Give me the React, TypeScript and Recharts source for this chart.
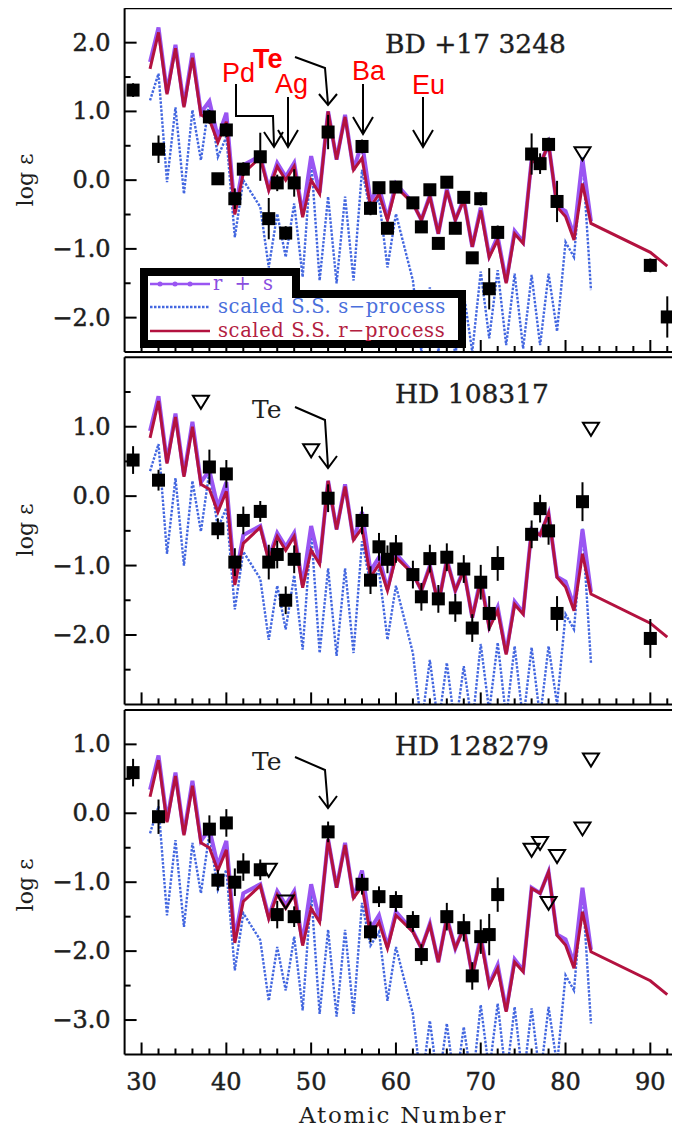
import React from "react";
import { ComposedChart, ErrorBar, Line, Scatter, XAxis, YAxis } from "recharts";

// scaled solar-system abundance patterns
const MODEL_Z = [
  31, 32, 33, 34, 35, 36, 37, 38, 39, 40, 41, 42, 44, 45, 46, 47, 48, 49, 50, 51, 52, 53, 54, 55, 56, 57, 58,
  59, 60, 62, 63, 64, 65, 66, 67, 68, 69, 70, 71, 72, 73, 74, 75, 76, 77, 78, 79, 80, 81, 82, 83,
];
const R_PROCESS = [
  1.62, 2.15, 1.25, 1.92, 1.06, 1.78, 0.95, 0.88, 0.55, 0.85, -0.5, 0.1, 0.33, -0.15, 0.2, 0.0, 0.2, -0.54,
  0.0, -0.2, 1.0, 0.3, 0.92, 0.15, 0.32, -0.39, -0.2, -0.58, -0.1, -0.34, -0.58, -0.24, -0.78, -0.15, -0.58,
  -0.29, -0.97, -0.44, -1.12, -0.87, -1.5, -0.78, -0.92, 0.29, 0.22, 0.53, -0.39, -0.53, -0.87, -0.05, -0.63,
];
const R_TAIL_Z = [90, 92];
const R_TAIL = [-1.05, -1.25];
const S_PROCESS = [
  1.16, 1.55, -0.03, 1.06, -0.2, 1.02, 0.29, 1.16, 0.34, 0.63, -0.83, 0.0, -0.39, -1.27, -0.49, -1.12, -0.34,
  -1.41, 0.3, -1.46, -0.24, -1.5, -0.24, -1.46, 0.15, -0.47, -0.27, -1.27, -0.49, -1.46, -2.5, -1.56, -2.5,
  -1.6, -2.55, -1.65, -2.5, -1.33, -2.3, -1.31, -2.4, -1.36, -2.45, -1.38, -2.4, -1.36, -2.2, -0.9, -1.12,
  0.34, -1.6,
];
const R_PLUS_S = [
  1.72, 2.22, 1.27, 1.97, 1.08, 1.85, 0.98, 1.15, 0.62, 0.98, -0.45, 0.22, 0.35, -0.12, 0.25, 0.05, 0.25, -0.5,
  0.35, -0.18, 1.0, 0.3, 0.95, 0.15, 0.55, -0.3, -0.1, -0.56, -0.05, -0.33, -0.58, -0.22, -0.78, -0.13, -0.58,
  -0.27, -0.97, -0.4, -1.1, -0.82, -1.48, -0.74, -0.9, 0.3, 0.22, 0.53, -0.38, -0.45, -0.8, 0.3, -0.6,
];

// per-star scaling of the patterns
const STARS = ["BD +17 3248", "HD 108317", "HD 128279"];
const R_SHIFT = [0, -0.78, -1.38];
const S_SHIFT = [0, -0.8, -1.45];
const RS_SHIFT = [0, -0.78, -1.38];

// BD +17 3248
const BD_Z = [29, 32, 38, 39, 40, 41, 42, 44, 45, 46, 47, 48, 52, 56, 57, 58, 59, 60, 62, 63, 64, 65, 66, 67, 68, 69, 70, 71, 72, 76, 77, 78, 79, 90, 92];
const BD_LOGE = [1.31, 0.45, 0.92, 0.02, 0.73, -0.27, 0.16, 0.34, -0.56, -0.04, -0.77, -0.04, 0.7, 0.49, -0.41, -0.11, -0.7, -0.1, -0.33, -0.68, -0.14, -0.92, -0.03, -0.7, -0.25, -1.13, -0.27, -1.58, -0.76, 0.38, 0.24, 0.52, -0.31, -1.24, -1.99];
const BD_ERR = [0.1, 0.2, 0.1, 0.08, 0.1, 0.15, 0.1, 0.35, 0.3, 0.12, 0.1, 0.2, 0.25, 0.1, 0.1, 0.08, 0.08, 0.08, 0.08, 0.08, 0.08, 0.08, 0.08, 0.08, 0.08, 0.08, 0.1, 0.3, 0.1, 0.3, 0.15, 0.1, 0.3, 0.1, 0.3];
const BD_LIM_Z = [82];
const BD_LIM = [0.39];

// HD 108317
const HD1_Z = [29, 32, 38, 39, 40, 41, 42, 44, 45, 46, 47, 48, 52, 56, 57, 58, 59, 60, 62, 63, 64, 65, 66, 67, 68, 69, 70, 71, 72, 76, 77, 78, 79, 82, 90];
const HD1_LOGE = [0.52, 0.23, 0.42, -0.47, 0.32, -0.95, -0.35, -0.22, -0.95, -0.84, -1.5, -0.91, -0.03, -0.35, -1.21, -0.73, -0.91, -0.76, -1.13, -1.45, -0.9, -1.48, -0.88, -1.61, -1.05, -1.9, -1.24, -1.69, -0.97, -0.55, -0.18, -0.5, -1.69, -0.08, -2.05];
const HD1_ERR = [0.2, 0.15, 0.25, 0.15, 0.2, 0.2, 0.2, 0.15, 0.25, 0.2, 0.2, 0.2, 0.2, 0.2, 0.2, 0.2, 0.2, 0.2, 0.2, 0.2, 0.2, 0.2, 0.2, 0.2, 0.2, 0.2, 0.25, 0.25, 0.25, 0.2, 0.2, 0.2, 0.25, 0.28, 0.28];
const HD1_LIM_Z = [37, 50, 83];
const HD1_LIM = [1.36, 0.66, 0.97];

// HD 128279
const HD2_Z = [29, 32, 38, 39, 40, 41, 42, 44, 46, 48, 52, 56, 57, 58, 60, 62, 63, 66, 68, 69, 70, 71, 72];
const HD2_LOGE = [0.59, -0.05, -0.23, -0.97, -0.14, -1.0, -0.78, -0.82, -1.47, -1.5, -0.27, -1.03, -1.72, -1.21, -1.28, -1.57, -2.05, -1.5, -1.66, -2.36, -1.79, -1.76, -1.18];
const HD2_ERR = [0.2, 0.25, 0.2, 0.15, 0.2, 0.2, 0.2, 0.15, 0.2, 0.15, 0.15, 0.15, 0.15, 0.15, 0.15, 0.15, 0.15, 0.2, 0.2, 0.2, 0.25, 0.3, 0.25];
const HD2_LIM_Z = [45, 47, 76, 77, 78, 79, 82, 83];
const HD2_LIM = [-0.82, -1.28, -0.53, -0.43, -1.3, -0.62, -0.22, 0.78];

const X_TICKS = [30, 32, 34, 36, 38, 40, 42, 44, 46, 48, 50, 52, 54, 56, 58, 60, 62, 64, 66, 68, 70, 72, 74, 76, 78, 80, 82, 84, 86, 88, 90, 92];
const Y_TICKS = [
  [-2, -1.5, -1, -0.5, 0, 0.5, 1, 1.5, 2],
  [-2.5, -2, -1.5, -1, -0.5, 0, 0.5, 1, 1.5],
  [-3, -2.5, -2, -1.5, -1, -0.5, 0, 0.5, 1],
];

const LAYOUT = [
  { top: 8.3, bottom: 352, domain: [-2.5, 2.5] },
  { top: 357.3, bottom: 704.4, domain: [-3, 2] },
  { top: 709.9, bottom: 1054.5, domain: [-3.5, 1.5] },
];

const RED = "#b3123f";
const PURPLE = "#9a55f2";
const BLUE = "#4367e0";
const INK = "#1e1e1e";
const SERIF = "'DejaVu Serif', serif";
const SANS = "'Liberation Sans', Arial, sans-serif";
const BOTTOM_AXIS_H = 40;
const TOP_AXIS_H = 2;

const pts = (zs: number[], vs: number[], shift = 0) => zs.map((z, i) => ({ z, v: vs[i] + shift }));
const obs = (zs: number[], vs: number[], es: number[]) => zs.map((z, i) => ({ z, v: vs[i], err: es[i] }));

const OBSERVED = [
  { pts: obs(BD_Z, BD_LOGE, BD_ERR), lim: pts(BD_LIM_Z, BD_LIM) },
  { pts: obs(HD1_Z, HD1_LOGE, HD1_ERR), lim: pts(HD1_LIM_Z, HD1_LIM) },
  { pts: obs(HD2_Z, HD2_LOGE, HD2_ERR), lim: pts(HD2_LIM_Z, HD2_LIM) },
];

const fmt = (v: number) => (v < 0 ? "\u2212" : "") + Math.abs(v).toFixed(1);
const isMajor = (v: number) => Math.abs(v - Math.round(v)) < 1e-6;

function Square(props: any) {
  const { cx, cy } = props;
  return <rect x={cx - 6.5} y={cy - 6.5} width={13} height={13} fill="#000" />;
}

function Limit(props: any) {
  const { cx, cy } = props;
  return <path d={`M${cx - 8},${cy - 6} L${cx + 8},${cy - 6} L${cx},${cy + 7} Z`} fill="none" stroke="#000" strokeWidth={2} />;
}

function Panel({ idx }: { idx: number }) {
  const lay = LAYOUT[idx];
  const red = [...pts(MODEL_Z, R_PROCESS, R_SHIFT[idx]), ...pts(R_TAIL_Z, R_TAIL, R_SHIFT[idx])];
  const blue = pts(MODEL_Z, S_PROCESS, S_SHIFT[idx]);
  const purple = pts(MODEL_Z, R_PLUS_S, RS_SHIFT[idx]);
  const showX = idx === 2;

  return (
    <div style={{ position: "absolute", left: 0, top: 0 }}>
      <ComposedChart
        width={700}
        height={1132}
        margin={{ top: lay.top - TOP_AXIS_H, right: 0, bottom: 1132 - lay.bottom - BOTTOM_AXIS_H, left: 0 }}
      >
        <XAxis
          xAxisId="b"
          dataKey="z"
          type="number"
          domain={[28, 93.5]}
          ticks={X_TICKS}
          interval={0}
          height={BOTTOM_AXIS_H}
          tickSize={0}
          tickMargin={0}
          axisLine={{ stroke: "#000", strokeWidth: 2 }}
          tickLine={false}
          tick={(p: any) => {
            const v = p.payload.value;
            const major = v % 10 === 0;
            return (
              <g key={`b${p.index}`}>
                <line x1={p.x} x2={p.x} y1={p.y} y2={p.y - (major ? 12 : 6)} stroke="#000" strokeWidth={2} />
                {showX && major ? (
                  <text x={p.x} y={p.y + 35} textAnchor="middle" fontFamily={SERIF} fontSize={24} fill={INK} stroke={INK} strokeWidth={0.5}>
                    {v}
                  </text>
                ) : null}
              </g>
            );
          }}
        />
        <XAxis
          xAxisId="t"
          orientation="top"
          type="number"
          domain={[28, 93.5]}
          ticks={X_TICKS}
          interval={0}
          height={TOP_AXIS_H}
          tickSize={0}
          tickMargin={0}
          axisLine={{ stroke: "#000", strokeWidth: 2 }}
          tickLine={false}
          tick={(p: any) => {
            const major = p.payload.value % 10 === 0;
            return <line key={`t${p.index}`} x1={p.x} x2={p.x} y1={p.y} y2={p.y + (major ? 12 : 6)} stroke="#000" strokeWidth={2} />;
          }}
        />
        <YAxis
          yAxisId="l"
          dataKey="v"
          type="number"
          domain={lay.domain}
          allowDataOverflow
          ticks={Y_TICKS[idx]}
          interval={0}
          width={124.6}
          tickSize={0}
          tickMargin={0}
          axisLine={{ stroke: "#000", strokeWidth: 2 }}
          tickLine={false}
          tick={(p: any) => {
            const v = p.payload.value;
            const major = isMajor(v);
            return (
              <g key={`l${p.index}`}>
                <line x1={p.x} x2={p.x + (major ? 12 : 6)} y1={p.y} y2={p.y} stroke="#000" strokeWidth={2} />
                {major ? (
                  <text x={p.x - 14} y={p.y + 8} textAnchor="end" fontFamily={SERIF} fontSize={24} fill={INK} stroke={INK} strokeWidth={0.5}>
                    {fmt(v)}
                  </text>
                ) : null}
              </g>
            );
          }}
        />
        <YAxis
          yAxisId="r"
          orientation="right"
          type="number"
          domain={lay.domain}
          ticks={Y_TICKS[idx]}
          interval={0}
          width={20}
          tickSize={0}
          tickMargin={0}
          axisLine={{ stroke: "#000", strokeWidth: 2 }}
          tickLine={false}
          tick={(p: any) => {
            const major = isMajor(p.payload.value);
            return <line key={`r${p.index}`} x1={p.x} x2={p.x - (major ? 12 : 6)} y1={p.y} y2={p.y} stroke="#000" strokeWidth={2} />;
          }}
        />
        <Line xAxisId="b" yAxisId="l" data={blue} dataKey="v" type="linear" stroke={BLUE} strokeWidth={2.4} strokeDasharray="2.5 1.5" dot={false} isAnimationActive={false} />
        <Line xAxisId="b" yAxisId="l" data={purple} dataKey="v" type="linear" stroke={PURPLE} strokeWidth={4} dot={false} isAnimationActive={false} />
        <Line xAxisId="b" yAxisId="l" data={red} dataKey="v" type="linear" stroke={RED} strokeWidth={3} dot={false} isAnimationActive={false} />
        <Scatter xAxisId="b" yAxisId="l" data={OBSERVED[idx].pts} dataKey="v" shape={(p: any) => <Square {...p} />} isAnimationActive={false}>
          <ErrorBar dataKey="err" direction="y" width={0} stroke="#000" strokeWidth={2} />
        </Scatter>
        <Scatter xAxisId="b" yAxisId="l" data={OBSERVED[idx].lim} dataKey="v" shape={(p: any) => <Limit {...p} />} isAnimationActive={false} />
      </ComposedChart>
    </div>
  );
}

function Arrow({ path, head }: { path: number[][]; head: number[][] }) {
  return (
    <g stroke="#000" strokeWidth={2} fill="none">
      <polyline points={path.map((p) => p.join(",")).join(" ")} />
      <polyline points={head.map((p) => p.join(",")).join(" ")} />
    </g>
  );
}

function Overlay() {
  return (
    <svg width={680} height={1132} style={{ position: "absolute", left: 0, top: 0 }}>
      {/* legend */}
      <path d="M144,272 L296,272 L296,294 L462,294 L462,344 L144,344 Z" fill="#fff" stroke="#000" strokeWidth={8} />
      <line x1={150} x2={210} y1={284} y2={284} stroke={PURPLE} strokeWidth={2.5} />
      {[160, 175, 190].map((x) => (
        <circle key={x} cx={x} cy={284} r={2.5} fill={PURPLE} />
      ))}
      <line x1={150} x2={210} y1={307} y2={307} stroke={BLUE} strokeWidth={2.4} strokeDasharray="2.5 1.5" />
      <line x1={150} x2={210} y1={331} y2={331} stroke={RED} strokeWidth={2.5} />
      <g fontFamily={SERIF} fontSize={19.5} letterSpacing={0.6}>
        <text x={213} y={290} fill="#8a4ee0" letterSpacing={3}>r + s</text>
        <text x={218} y={313} fill="#4a6fdc">scaled S.S. s{"\u2212"}process</text>
        <text x={218} y={337} fill="#b3203f">scaled S.S. r{"\u2212"}process</text>
      </g>

      {/* star names */}
      <g fontFamily={SERIF} fontSize={26.5} fill={INK} stroke={INK} strokeWidth={0.4}>
        <text x={385} y={53}>{STARS[0]}</text>
        <text x={395} y={403}>{STARS[1]}</text>
        <text x={395} y={755}>{STARS[2]}</text>
      </g>

      {/* y labels */}
      <g fontFamily={SERIF} fontSize={22} fill={INK} textAnchor="middle">
        <text transform="translate(33,180) rotate(-90)">log ε</text>
        <text transform="translate(33,530) rotate(-90)">log ε</text>
        <text transform="translate(33,885) rotate(-90)">log ε</text>
      </g>
      <text x={403} y={1123} textAnchor="middle" fontFamily={SERIF} fontSize={23} letterSpacing={1.8} fill={INK}>
        Atomic Number
      </text>

      {/* top panel element markers */}
      <g fontFamily={SANS} fontSize={27} fill="#ff0000">
        <text x={222} y={82}>Pd</text>
        <text x={253} y={68} fontWeight="bold">Te</text>
        <text x={275} y={93}>Ag</text>
        <text x={352} y={80}>Ba</text>
        <text x={412} y={94}>Eu</text>
      </g>
      <Arrow path={[[236, 84], [236, 116], [273, 116], [274, 146]]} head={[[264, 132], [274, 147], [283, 132]]} />
      <Arrow path={[[288, 97], [288, 147]]} head={[[278, 130], [288, 147], [298, 130]]} />
      <Arrow path={[[295, 57], [325, 68], [328, 104]]} head={[[319, 94], [328, 105], [337, 94]]} />
      <Arrow path={[[363, 84], [363, 134]]} head={[[353, 117], [363, 134], [373, 117]]} />
      <Arrow path={[[423, 97], [423, 147]]} head={[[413, 130], [423, 147], [433, 130]]} />

      {/* Te markers lower panels */}
      <g fontFamily={SERIF} fontSize={25} fill={INK}>
        <text x={252} y={418}>Te</text>
        <text x={252} y={770}>Te</text>
      </g>
      <Arrow path={[[295, 407], [325, 420], [328, 467]]} head={[[319, 456], [328, 468], [337, 456]]} />
      <Arrow path={[[295, 757], [325, 770], [328, 807]]} head={[[319, 796], [328, 808], [337, 796]]} />
    </svg>
  );
}

export default function App() {
  return (
    <div style={{ position: "relative", width: 680, height: 1132, margin: -8, overflow: "hidden", background: "#fff" }}>
      <Panel idx={0} />
      <Panel idx={1} />
      <Panel idx={2} />
      <Overlay />
    </div>
  );
}
